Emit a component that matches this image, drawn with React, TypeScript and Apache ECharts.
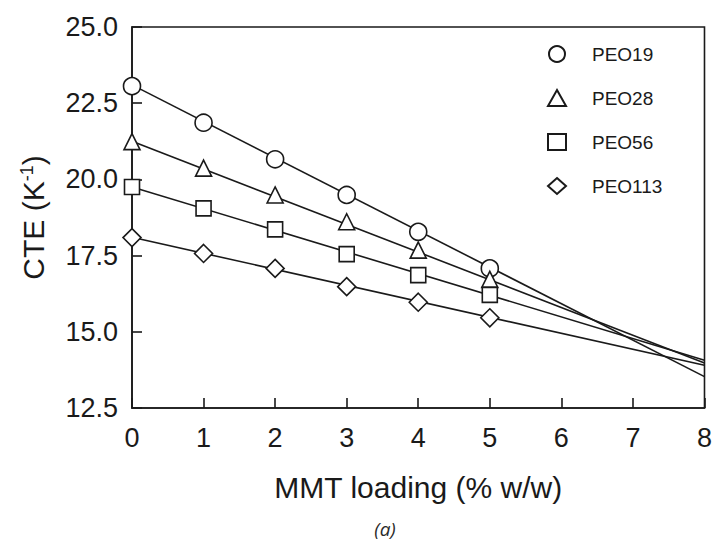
import React, { useEffect, useRef } from "react";
import * as echarts from "echarts";

const loading = [0, 1, 2, 3, 4, 5];
const peo19 = [23.06, 21.86, 20.66, 19.49, 18.28, 17.08];
const peo28 = [21.24, 20.37, 19.49, 18.61, 17.68, 16.72];
const peo56 = [19.75, 19.05, 18.36, 17.55, 16.86, 16.21];
const peo113 = [18.09, 17.57, 17.08, 16.48, 15.97, 15.46];

const fitX = [0, 8];
const fit19 = [23.1, 13.53];
const fit28 = [21.25, 13.98];
const fit56 = [19.75, 14.07];
const fit113 = [18.1, 13.9];

const seriesNames = ["PEO19", "PEO28", "PEO56", "PEO113"];
const symbols = ["circle", "triangle", "rect", "diamond"];
const symbolSizes = [17, 16, 15, 18];

const pointSets = [peo19, peo28, peo56, peo113];
const fitSets = [fit19, fit28, fit56, fit113];

const FONT = '"Liberation Sans", Arial, sans-serif';
const INK = "#1a1a1a";

export default function App() {
  const ref = useRef<HTMLDivElement>(null);

  useEffect(() => {
    if (!ref.current) return;
    const chart = echarts.init(ref.current, null, { renderer: "svg" });

    const fitSeries = fitSets.map((f, i) => ({
      name: seriesNames[i] + " fit",
      type: "line",
      data: fitX.map((x, j) => [x, f[j]]),
      showSymbol: false,
      symbol: "none",
      lineStyle: { color: INK, width: 1.6 },
      z: 2,
      silent: true,
    }));

    const pointSeries = pointSets.map((p, i) => ({
      name: seriesNames[i],
      type: "scatter",
      data: loading.map((x, j) => [x, p[j]]),
      symbol: symbols[i],
      symbolSize: symbolSizes[i],
      itemStyle: { color: "#ffffff", borderColor: INK, borderWidth: 1.6, opacity: 1 },
      z: 5,
    }));

    chart.setOption({
      animation: false,
      backgroundColor: "#ffffff",
      textStyle: { fontFamily: FONT },
      grid: {
        left: 132,
        right: 10,
        top: 27,
        bottom: 135,
        show: true,
        borderColor: INK,
        borderWidth: 1.6,
        backgroundColor: "transparent",
      },
      legend: {
        data: seriesNames,
        orient: "vertical",
        left: 542,
        top: 39,
        itemWidth: 18,
        itemHeight: 16,
        itemGap: 24,
        textStyle: {
          fontFamily: FONT,
          fontSize: 19,
          color: INK,
          lineHeight: 20,
          padding: [0, 0, 0, 21],
        },
      },
      xAxis: {
        type: "value",
        min: 0,
        max: 8,
        interval: 1,
        name: "MMT loading (% w/w)",
        nameLocation: "middle",
        nameGap: 64,
        nameTextStyle: { fontFamily: FONT, fontSize: 30, color: INK },
        axisLine: { show: true, lineStyle: { color: INK, width: 1.6 } },
        axisTick: { show: true, inside: true, length: 10, lineStyle: { color: INK, width: 1.6 } },
        axisLabel: { fontFamily: FONT, fontSize: 27, color: INK, margin: 16 },
        splitLine: { show: false },
      },
      yAxis: {
        type: "value",
        min: 12.5,
        max: 25,
        interval: 2.5,
        name: "CTE (K{sup|-1})",
        nameLocation: "middle",
        nameGap: 84,
        nameRotate: 90,
        nameTextStyle: {
          fontFamily: FONT,
          fontSize: 30,
          color: INK,
          lineHeight: 30,
          rich: {
            sup: { fontFamily: FONT, fontSize: 18, color: INK, verticalAlign: "top", lineHeight: 30, padding: [0, 0, 12, 0] },
          },
        },
        axisLine: { show: true, lineStyle: { color: INK, width: 1.6 } },
        axisTick: { show: true, inside: true, length: 10, lineStyle: { color: INK, width: 1.6 } },
        axisLabel: {
          fontFamily: FONT,
          fontSize: 27,
          color: INK,
          margin: 14,
          formatter: (v: number) => v.toFixed(1),
        },
        splitLine: { show: false },
      },
      graphic: [
        {
          type: "text",
          x: 385,
          y: 529,
          style: {
            text: "(a)",
            font: 'italic 19px "Open Sans", sans-serif',
            fill: "#2a2a2a",
            textAlign: "center",
            textVerticalAlign: "middle",
          },
        },
      ],
      series: [...fitSeries, ...pointSeries],
    });

    return () => chart.dispose();
  }, []);

  return (
    <div
      ref={ref}
      style={{ position: "fixed", left: 0, top: 0, width: 715, height: 543 }}
    />
  );
}
